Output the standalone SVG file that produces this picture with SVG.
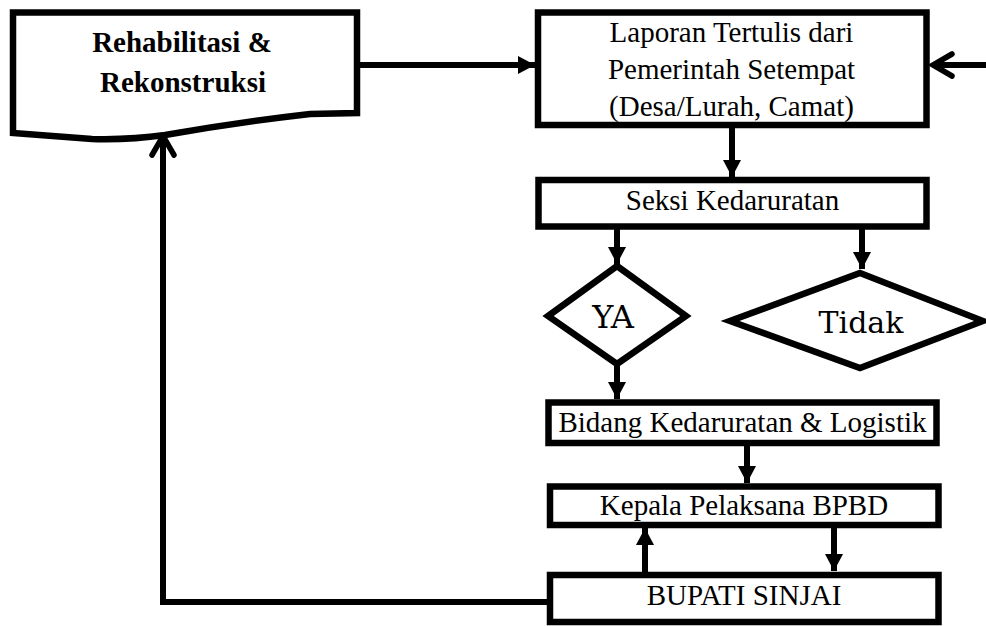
<svg xmlns="http://www.w3.org/2000/svg" width="986" height="626" viewBox="0 0 986 626">
<style>
.box{fill:#fff;stroke:#000;stroke-width:6.5}
.t{font-family:"Liberation Serif","Times New Roman",serif;font-size:29px;fill:#000;text-anchor:middle}
.b{font-weight:bold}
.d{font-family:"DejaVu Serif",serif;fill:#000;text-anchor:middle}
.c{fill:none;stroke:#000;stroke-width:6}
</style>
<defs>
<marker id="fa" markerUnits="userSpaceOnUse" markerWidth="20" markerHeight="20" refX="17" refY="9" orient="auto" overflow="visible">
<path d="M0,0 L17,9 L0,18 z" fill="#000"/>
</marker>
<marker id="oa" markerUnits="userSpaceOnUse" markerWidth="30" markerHeight="30" refX="0" refY="0" orient="auto" overflow="visible">
<path d="M-19,-11 L0,0 L-19,11" fill="none" stroke="#000" stroke-width="5.5" stroke-linecap="round" stroke-linejoin="miter"/>
</marker>
</defs>
<rect width="986" height="626" fill="#fff"/>
<g id="connectors">
<line class="c" x1="357" y1="65" x2="535" y2="65" marker-end="url(#fa)" stroke-width="5"/>
<line class="c" x1="986" y1="65" x2="933" y2="65" marker-end="url(#oa)" stroke-width="5"/>
<line class="c" x1="732" y1="125" x2="732" y2="177" marker-end="url(#fa)"/>
<line class="c" x1="617" y1="226" x2="617" y2="264" marker-end="url(#fa)"/>
<line class="c" x1="862" y1="226" x2="862" y2="269" marker-end="url(#fa)"/>
<line class="c" x1="617" y1="362" x2="617" y2="399" marker-end="url(#fa)"/>
<line class="c" x1="747" y1="443" x2="747" y2="483" marker-end="url(#fa)"/>
<line class="c" x1="834" y1="525" x2="834" y2="571" marker-end="url(#fa)"/>
<line class="c" x1="645" y1="575" x2="645" y2="528" marker-end="url(#fa)"/>
<polyline class="c" points="550,602 163,602 163,136" stroke-width="5.5" marker-end="url(#oa)"/>
</g>
<g id="rehab">
<path class="box" d="M13,12.5 L357,12.5 L357,113 L310,114 Q240,122 165,135 Q130,140 92,139 L13,133 Z"/>
<text class="t b" x="182" y="52">Rehabilitasi &amp;</text>
<text class="t b" x="183" y="92">Rekonstruksi</text>
</g>
<g id="laporan">
<rect class="box" x="538" y="12.5" width="388.5" height="112.5"/>
<text class="t" x="731.5" y="42">Laporan Tertulis dari</text>
<text class="t" x="731.5" y="79">Pemerintah Setempat</text>
<text class="t" x="731.5" y="116">(Desa/Lurah, Camat)</text>
</g>
<g id="seksi">
<rect class="box" x="538.5" y="180" width="388" height="46.5"/>
<text class="t" x="732.5" y="210">Seksi Kedaruratan</text>
</g>
<g id="ya">
<polygon class="box" points="617,266 686,316 617,364 548,316"/>
<text class="d" x="613" y="328" font-size="32">YA</text>
</g>
<g id="tidak">
<polygon class="box" points="860,273 983,321 860,368 730,321"/>
<text class="d" x="861" y="333" font-size="30">Tidak</text>
</g>
<g id="bidang">
<rect class="box" x="548.5" y="402.5" width="388" height="40.5"/>
<text class="t" x="742.5" y="432">Bidang Kedaruratan &amp; Logistik</text>
</g>
<g id="kepala">
<rect class="box" x="550" y="486.5" width="388.5" height="38.5"/>
<text class="t" x="744" y="515">Kepala Pelaksana BPBD</text>
</g>
<g id="bupati">
<rect class="box" x="550" y="575" width="388.5" height="47"/>
<text class="t" x="744" y="605">BUPATI SINJAI</text>
</g>
</svg>
